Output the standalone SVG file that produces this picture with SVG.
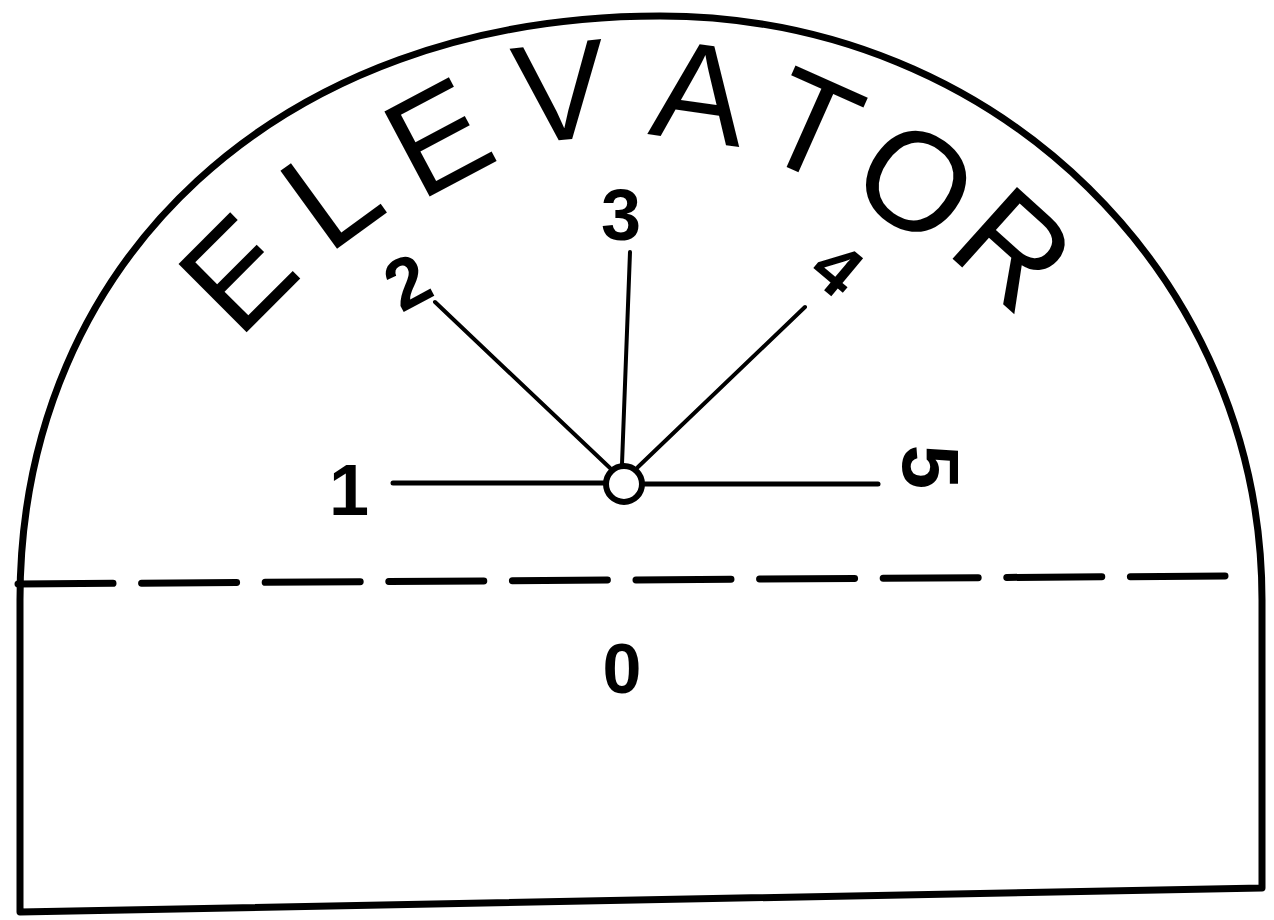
<svg xmlns="http://www.w3.org/2000/svg" width="1274" height="920" viewBox="0 0 1274 920">
  <style>
    .ink { fill: none; stroke: #000; stroke-linecap: round; stroke-linejoin: round; }
    .num { font-family: "Liberation Sans", Arial, sans-serif; font-weight: bold; fill: #000; text-anchor: middle; }
    .title { font-family: "Liberation Sans", Arial, sans-serif; font-size: 140px; fill: #000; }
  </style>
  <rect width="1274" height="920" fill="#fff"/>
  <g id="frame">
    <path class="ink" stroke-width="7" d="M20,912 L20,600 C20,260 280,16 660,16 C1000,16 1262,280 1262,600 L1262,888 Z"/>
    <path class="ink" stroke-width="7" stroke-linecap="butt" stroke-dasharray="95 28.6" d="M18,584 L1225,576"/>
  </g>
  <g id="connectors">
    <line class="ink" stroke-width="5" x1="393" y1="483" x2="604" y2="483"/>
    <line class="ink" stroke-width="5" x1="643" y1="484" x2="878" y2="484"/>
    <line class="ink" stroke-width="4" x1="435" y1="302" x2="610" y2="468"/>
    <line class="ink" stroke-width="4" x1="630" y1="252" x2="622" y2="464"/>
    <line class="ink" stroke-width="4" x1="805" y1="307" x2="638" y2="467"/>
  </g>
  <g id="hub">
    <circle class="ink" stroke-width="6" cx="624" cy="484" r="18" fill="#fff"/>
  </g>
  <g id="title">
    <text class="title" x="238.5 327.8 419.4 519 647 753.4 843.7 944" y="340.2 255.4 202 144.6 134 152.2 189.7 251" rotate="-45 -36 -28 -6 8 24 35 42">ELEVATOR</text>
  </g>
  <g id="floor-1"><text class="num" x="349" y="515" font-size="72">1</text></g>
  <g id="floor-2"><text class="num" transform="translate(407,281) rotate(-28)" x="0" y="26" font-size="72">2</text></g>
  <g id="floor-3"><text class="num" x="621" y="240" font-size="72">3</text></g>
  <g id="floor-4"><text class="num" transform="translate(838,268) rotate(40)" x="0" y="26" font-size="72">4</text></g>
  <g id="floor-5"><text class="num" transform="translate(931,467) rotate(90)" x="0" y="28" font-size="80">5</text></g>
  <g id="floor-0"><text class="num" x="622" y="693" font-size="70">0</text></g>
</svg>
